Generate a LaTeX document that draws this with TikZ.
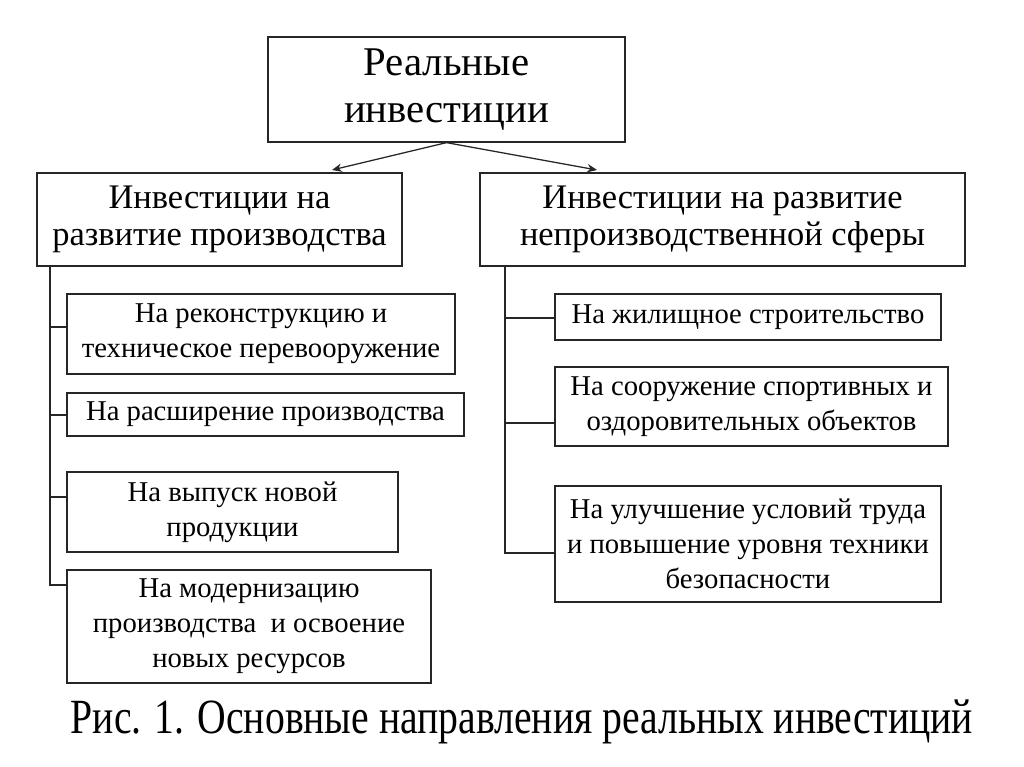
\documentclass[tikz,border=0pt]{standalone}
\usepackage{fontspec}
\setmainfont{Liberation Serif}
\newfontfamily\capfont{Liberation Serif}[FakeStretch=0.806]
\usepackage{tikz}
\usetikzlibrary{arrows.meta}

\tikzset{
  box/.style 2 args={draw=black!85, line width=0.9pt, inner sep=0pt, align=center,
    minimum width=#1*0.025cm, minimum height=#2*0.025cm},
  link/.style={draw=black!85, line width=0.9pt},
  tip/.style={-{Stealth[length=7pt,width=6pt]}}
}

\begin{document}
\begin{tikzpicture}[x=0.025cm,y=-0.025cm]
  \useasboundingbox (0,0) rectangle (1024,767);
  % top level
  \node[box={357}{105},font=\fontsize{29}{33}\selectfont] (top) at (446.5,89.5) {Реальные\\инвестиции};
  \node[box={365}{93},font=\fontsize{24.5}{26.5}\selectfont] (lbox) at (219.5,219.5) {Инвестиции на\\развитие производства};
  \node[box={485}{93},font=\fontsize{24.5}{26.5}\selectfont] (rbox) at (722.5,219.5) {Инвестиции на развитие\\непроизводственной сферы};
  \coordinate (lend) at (332,170);
  \coordinate (rend) at (597,170);
  \draw[link,tip] (top.south) -- (lend);
  \draw[link,tip] (top.south) -- (rend);

  % left column
  \begin{scope}[font=\fontsize{20.4}{24.8}\selectfont]
  \node[box={388}{80}] (l1) at (261,334) {На реконструкцию и\\техническое перевооружение};
  \node[box={397}{43}] (l2) at (265.5,414.5) {На расширение производства};
  \node[box={331}{80}] (l3) at (232.5,512) {На выпуск новой\\продукции};
  \node[box={364}{113}] (l4) at (249,626.5) {На модернизацию\\производства~ и освоение\\новых ресурсов};
  % right column
  \node[box={386}{46}] (r1) at (748,317) {На жилищное строительство};
  \node[box={393}{79}] (r2) at (751.5,406.5) {На сооружение спортивных и\\оздоровительных объектов};
  \node[box={386}{116}] (r3) at (748,544) {На улучшение условий труда\\и повышение уровня техники\\безопасности};
  \end{scope}

  \foreach \n/\y in {l1/327,l2/415,l3/497,l4/585}
    \draw[link] (lbox.south -| 50,0) |- (\n.west |- 0,\y);
  \foreach \n/\y in {r1/318,r2/423,r3/553}
    \draw[link] (rbox.south -| 505,0) |- (\n.west |- 0,\y);

  \node[box={900}{50},draw=none] (cap) at (522,722) {\capfont\fontsize{35}{40}\selectfont Рис. 1. Основные направления реальных инвестиций};
\end{tikzpicture}
\end{document}
